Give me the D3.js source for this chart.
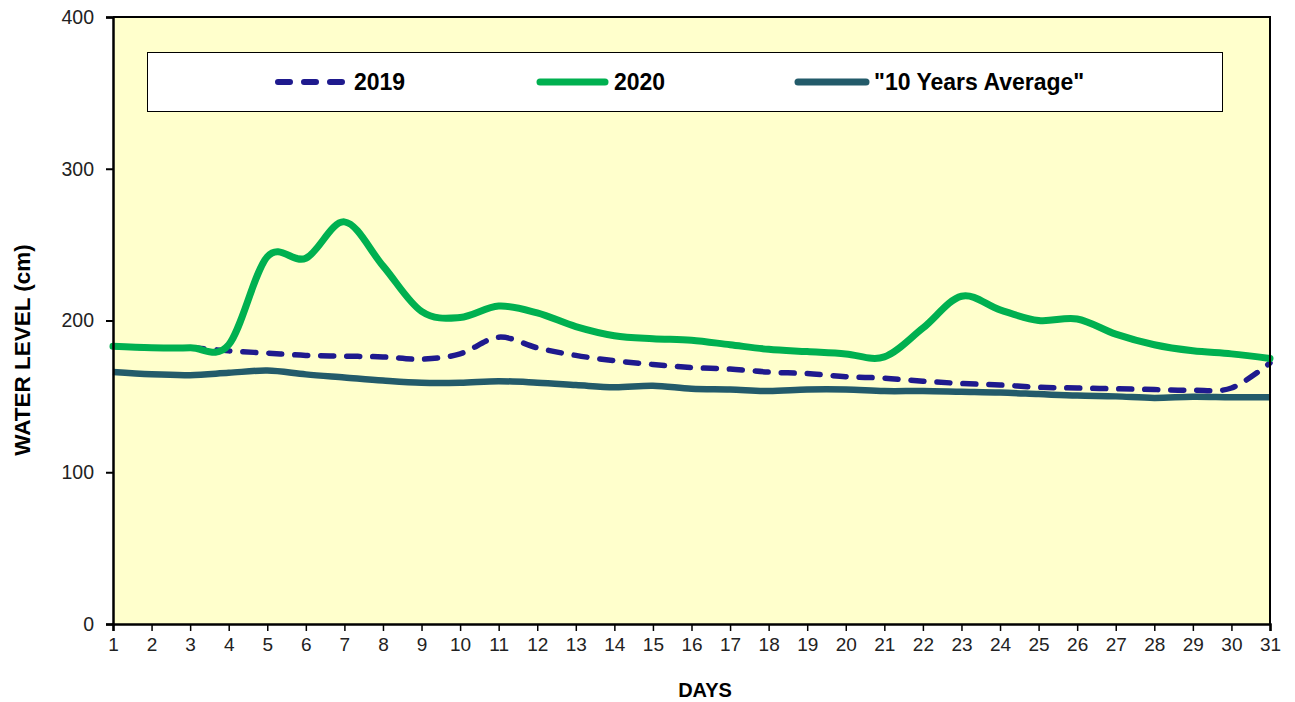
<!DOCTYPE html>
<html>
<head>
<meta charset="utf-8">
<script src="https://cdn.jsdelivr.net/npm/d3@7"></script>
<style>
  html, body { margin: 0; padding: 0; background: #ffffff; }
  svg { display: block; font-family: "Liberation Sans", Arial, sans-serif; }
</style>
</head>
<body>
<svg id="chart" width="1295" height="702"></svg>
<script>
// ---- data ----
const days = d3.range(1, 32);
const series2019 = [183, 182, 182, 180, 178.5, 177, 176.5, 176, 174.5, 178, 189, 182, 177, 173.5, 171, 169, 168, 166, 165, 163, 162, 160, 158.5, 157.5, 156, 155.5, 155, 154.5, 154, 155.5, 172];
const series2020 = [183, 182, 182, 184, 242, 241, 265, 236, 206, 202, 209.5, 205, 196, 190, 188, 187, 184, 181, 179.5, 178, 176, 195, 216, 207, 200, 201, 191, 184, 180, 178, 175];
const seriesAvg = [166, 164.5, 164, 165.5, 167, 164.5, 162.5, 160.5, 159, 159, 160, 159, 157.5, 156, 157, 155, 154.5, 153.5, 154.5, 154.5, 153.5, 153.5, 153, 152.5, 151.5, 150.5, 150, 149, 149.8, 149.5, 149.5];
const yTicks = [0, 100, 200, 300, 400];
const seriesNames = ["2019", "2020", "\"10 Years Average\""];

(function () {
// ---- layout ----
const svg = d3.select("#chart");
const pL = 113, pR = 1270, pT = 17, pB = 624;

const x = d3.scaleLinear().domain([1, 31]).range([pL, pR]);
const y = d3.scaleLinear().domain([0, 400]).range([pB, pT]);

// plot background
svg.append("rect")
  .attr("x", pL).attr("y", pT)
  .attr("width", pR - pL).attr("height", pB - pT)
  .attr("fill", "#FFFFCC");

// legend box
const lg = svg.append("g");
lg.append("rect")
  .attr("x", 147.5).attr("y", 52.5)
  .attr("width", 1075).attr("height", 59)
  .attr("fill", "#ffffff").attr("stroke", "#000").attr("stroke-width", 1);

const legendItems = [
  { name: seriesNames[0], color: "#1F1A8E", dash: "12,14", w: 6, x0: 278, x1: 345, tx: 354 },
  { name: seriesNames[1], color: "#00B050", dash: null, w: 7, x0: 540, x1: 605, tx: 614 },
  { name: seriesNames[2], color: "#235B6A", dash: null, w: 7, x0: 798, x1: 866, tx: 874 }
];
legendItems.forEach(it => {
  const ln = lg.append("line")
    .attr("x1", it.x0).attr("x2", it.x1)
    .attr("y1", 82).attr("y2", 82)
    .attr("stroke", it.color).attr("stroke-width", it.w)
    .attr("stroke-linecap", "round");
  if (it.dash) ln.attr("stroke-dasharray", it.dash);
  lg.append("text")
    .attr("x", it.tx).attr("y", 90)
    .attr("font-size", 23).attr("font-weight", "bold")
    .attr("fill", "#000")
    .text(it.name);
});

// lines
const line = d3.line()
  .x((d, i) => x(days[i]))
  .y(d => y(d))
  .curve(d3.curveCatmullRom.alpha(0));

svg.append("path").datum(seriesAvg)
  .attr("d", line).attr("fill", "none")
  .attr("stroke", "#235B6A").attr("stroke-width", 6.5)
  .attr("stroke-linejoin", "round");

svg.append("path").datum(series2019)
  .attr("d", line).attr("fill", "none")
  .attr("stroke", "#1F1A8E").attr("stroke-width", 5.5)
  .attr("stroke-dasharray", "13,13")
  .attr("stroke-linecap", "round");

svg.append("path").datum(series2020)
  .attr("d", line).attr("fill", "none")
  .attr("stroke", "#00B050").attr("stroke-width", 7)
  .attr("stroke-linejoin", "round").attr("stroke-linecap", "round");

// frame (top & right)
svg.append("path")
  .attr("d", `M${pL},${pT}H${pR}V${pB}`)
  .attr("fill", "none").attr("stroke", "#000").attr("stroke-width", 2);

// axes
const yAxis = d3.axisLeft(y).tickValues(yTicks).tickSize(7).tickPadding(12).tickFormat(d3.format("d"));
const gy = svg.append("g").attr("transform", `translate(${pL},0)`).call(yAxis);
gy.select(".domain").attr("stroke", "#000").attr("stroke-width", 2.5);
gy.selectAll(".tick line").attr("stroke", "#000").attr("stroke-width", 2);
gy.selectAll(".tick text").attr("font-size", 19.5).attr("fill", "#222")
  .attr("font-family", "'Liberation Sans', Arial, sans-serif");

const xAxis = d3.axisBottom(x).tickValues(days).tickSize(7).tickPadding(7).tickFormat(d3.format("d"));
const gx = svg.append("g").attr("transform", `translate(0,${pB})`).call(xAxis);
gx.select(".domain").attr("stroke", "#000").attr("stroke-width", 2.5);
gx.selectAll(".tick line").attr("stroke", "#000").attr("stroke-width", 1.5);
gx.selectAll(".tick text").attr("font-size", 19).attr("fill", "#222")
  .attr("font-family", "'Liberation Sans', Arial, sans-serif");

// axis titles
svg.append("text")
  .attr("x", 705).attr("y", 697)
  .attr("text-anchor", "middle")
  .attr("font-size", 20).attr("font-weight", "bold")
  .text("DAYS");

svg.append("text")
  .attr("transform", "translate(30,350) rotate(-90)")
  .attr("text-anchor", "middle")
  .attr("font-size", 22.5).attr("font-weight", "bold")
  .text("WATER LEVEL (cm)");
})();
</script>
</body>
</html>
